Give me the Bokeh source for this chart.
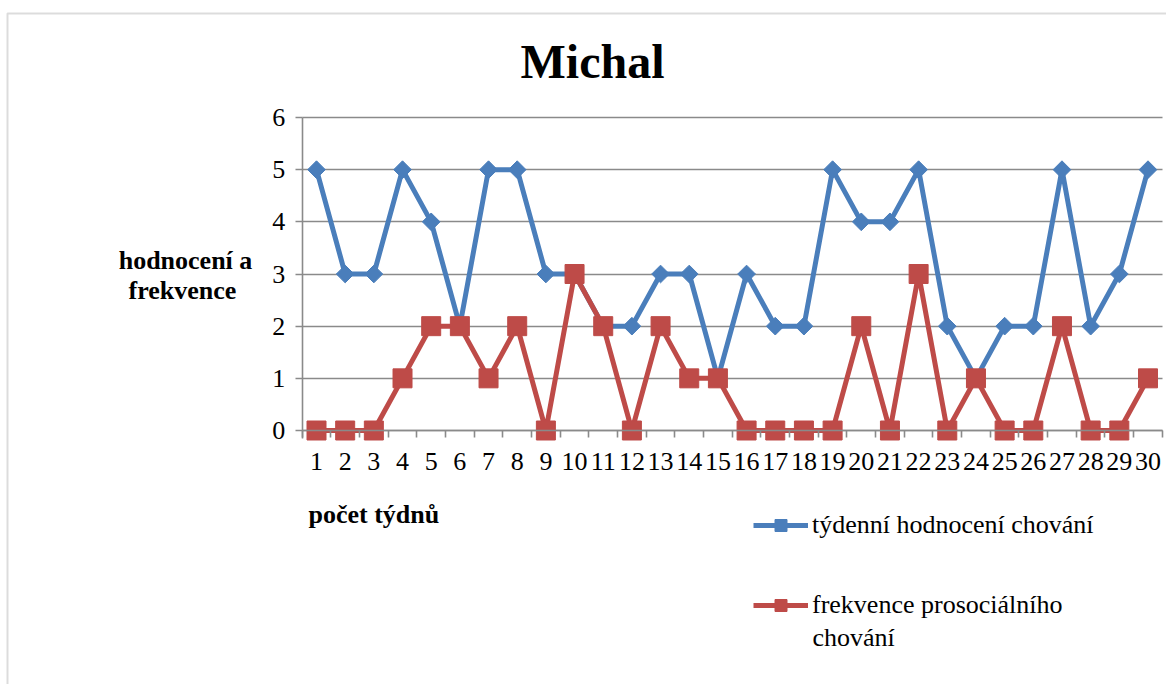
from bokeh.plotting import figure
from bokeh.models import (FixedTicker, Label, Legend, LegendItem, Range1d, ColumnDataSource,
                          BoxAnnotation, Grid)
from bokeh.embed import file_html
from bokeh.resources import INLINE
import math

# ---- data ----
weeks = list(range(1, 31))
hodnoceni = [5, 3, 3, 5, 4, 2, 5, 5, 3, 3, 2, 2, 3, 3, 1, 3, 2, 2, 5, 4, 4, 5, 2, 1, 2, 2, 5, 2, 3, 5]
frekvence = [0, 0, 0, 1, 2, 2, 1, 2, 0, 3, 2, 0, 2, 1, 1, 0, 0, 0, 0, 2, 0, 3, 0, 1, 0, 0, 2, 0, 0, 1]
y_ticks = [0, 1, 2, 3, 4, 5, 6]
title_text = "Michal"
y_label_lines = ["hodnocení a", "frekvence"]
x_label_text = "počet týdnů"
series_names = ["týdenní hodnocení chování", "frekvence prosociálního"]
series_name_wrap = "chování"

BLUE = "#4A7EBB"
RED = "#BE4B48"
GRAY = "#8A8A8A"
FONT = "'Liberation Serif', 'Times New Roman', 'DejaVu Serif', serif"
FS = "26px"

# ---- layout geometry (pixels) ----
W, H = 1166, 684
X1_PX, X30_PX = 316.0, 1147.5      # pixel positions of first/last category
Y0_PX, Y6_PX = 430.0, 117.0        # pixel positions of value 0 and 6
sx = (X30_PX - X1_PX) / (weeks[-1] - weeks[0])
sy = (Y0_PX - Y6_PX) / (y_ticks[-1] - y_ticks[0])
x_start = weeks[0] - X1_PX / sx
x_end = x_start + W / sx
y_end = y_ticks[-1] + Y6_PX / sy
y_start = y_end - H / sy
x_lo, x_hi = weeks[0] - 0.5, weeks[-1] + 0.5

src = ColumnDataSource(dict(x=weeks, a=hodnoceni, b=frekvence))

p = figure(width=W, height=H, output_backend="svg", toolbar_location=None,
           x_range=Range1d(x_start, x_end), y_range=Range1d(y_start, y_end),
           min_border=0, min_border_left=0, min_border_right=0,
           min_border_top=0, min_border_bottom=0)
p.outline_line_color = None
p.background_fill_color = "white"
p.border_fill_color = "white"

# outer chart border
p.add_layout(BoxAnnotation(left=7, right=W + 50, top=H - 13, bottom=-50,
                           left_units="screen", right_units="screen",
                           top_units="screen", bottom_units="screen",
                           fill_alpha=0, line_color=GRAY, line_width=2))

# grid
p.xgrid.visible = False
if "cross_bounds" in Grid.properties():
    p.ygrid.ticker = FixedTicker(ticks=y_ticks)
    p.ygrid.grid_line_color = GRAY
    p.ygrid.grid_line_width = 1.6
    p.ygrid.cross_bounds = (x_lo, x_hi)
else:
    p.ygrid.visible = False
    p.segment(x0=[x_lo] * len(y_ticks), x1=[x_hi] * len(y_ticks), y0=y_ticks, y1=y_ticks,
              line_color=GRAY, line_width=1.6)

bl = p.line("x", "a", source=src, line_color=BLUE, line_width=5)
bs = p.scatter("x", "a", source=src, marker="square", angle=math.pi / 4, size=12.5,
               fill_color=BLUE, line_color=BLUE)
rl = p.line("x", "b", source=src, line_color=RED, line_width=5)
rs = p.scatter("x", "b", source=src, marker="square", size=19,
               fill_color=RED, line_color=RED)

# y axis
ya = p.yaxis[0]
ya.fixed_location = x_lo
ya.bounds = (-0.15, y_ticks[-1])
ya.ticker = FixedTicker(ticks=y_ticks)
ya.axis_line_color = GRAY
ya.axis_line_width = 1.6
ya.major_tick_line_color = GRAY
ya.major_tick_line_width = 1.6
ya.major_tick_out = 7
ya.major_tick_in = 0
ya.minor_tick_line_color = None
ya.major_label_text_font = FONT
ya.major_label_text_font_size = FS
ya.major_label_text_color = "black"
ya.major_label_standoff = 10

# x axis
xa = p.xaxis[0]
xa.fixed_location = 0
xa.bounds = (x_lo, x_hi)
xa.ticker = FixedTicker(ticks=weeks, minor_ticks=[w - 0.5 for w in weeks] + [x_hi])
xa.axis_line_color = GRAY
xa.axis_line_width = 1.6
xa.major_tick_out = 0
xa.major_tick_in = 0
xa.major_tick_line_color = None
xa.minor_tick_line_color = GRAY
xa.minor_tick_line_width = 1.6
xa.minor_tick_out = 7
xa.minor_tick_in = 0
xa.major_label_text_font = FONT
xa.major_label_text_font_size = FS
xa.major_label_text_color = "black"
xa.major_label_standoff = 15

# title and axis labels (screen units, from bottom-left)
p.add_layout(Label(x=592, y=H - 78 + 17, x_units="screen", y_units="screen", text=title_text,
                   text_font=FONT, text_font_size="48px", text_font_style="bold",
                   text_align="center", text_baseline="alphabetic", text_color="black"))
for i, (line, cx) in enumerate(zip(y_label_lines, [185, 182])):
    p.add_layout(Label(x=cx, y=H - 268 - 30 * i + 8, x_units="screen", y_units="screen", text=line,
                       text_font=FONT, text_font_size=FS, text_font_style="bold",
                       text_align="center", text_baseline="alphabetic", text_color="black"))
p.add_layout(Label(x=308, y=H - 522 + 8, x_units="screen", y_units="screen", text=x_label_text,
                   text_font=FONT, text_font_size=FS, text_font_style="bold",
                   text_align="left", text_baseline="alphabetic", text_color="black"))

legend = Legend(items=[LegendItem(label=series_names[0], renderers=[bl, bs]),
                       LegendItem(label=series_names[1], renderers=[rl, rs])],
                location=(753, H - 620), orientation="vertical",
                border_line_color=None, background_fill_alpha=0,
                padding=0, margin=0, spacing=50,
                glyph_width=55, glyph_height=30, label_height=30, label_standoff=4,
                label_text_font=FONT, label_text_font_size=FS, label_text_color="black")
p.add_layout(legend, "center")
p.add_layout(Label(x=812, y=H - 645 + 8, x_units="screen", y_units="screen", text=series_name_wrap,
                   text_font=FONT, text_font_size=FS,
                   text_align="left", text_baseline="alphabetic", text_color="black"))

open("out.html", "w").write(file_html(p, INLINE))
